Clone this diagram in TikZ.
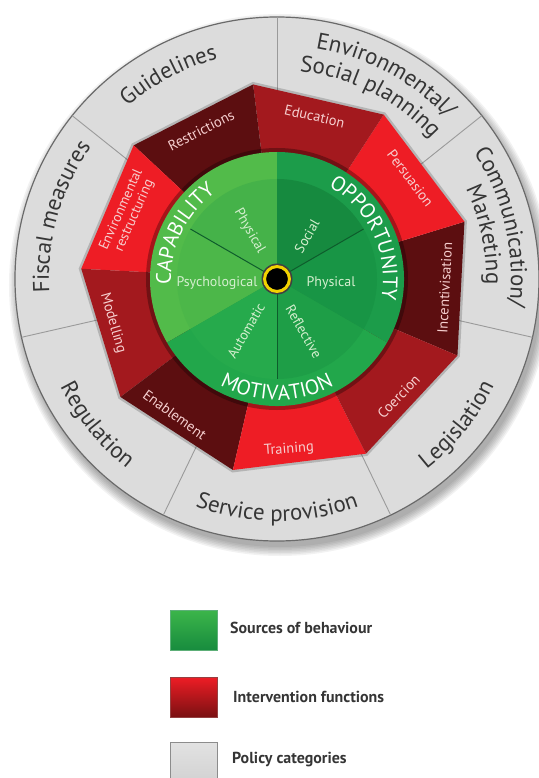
\documentclass[tikz,border=0pt]{standalone}
\usepackage{fontspec}
\setmainfont{PT Sans}
\usetikzlibrary{decorations.text}

\definecolor{ringgrey}{HTML}{DCDCDC}
\definecolor{rimgrey}{HTML}{6A6A6A}
\definecolor{sepgrey}{HTML}{9A9A9A}
\definecolor{greytext}{HTML}{353535}
\definecolor{reddark}{HTML}{5C0E10}
\definecolor{redmid}{HTML}{A3191E}
\definecolor{redbright}{HTML}{EE1D25}
\definecolor{redtext}{HTML}{F6CFCF}
\definecolor{capband}{HTML}{52BB4A}
\definecolor{capphys}{HTML}{45B249}
\definecolor{cappsy}{HTML}{4CB749}
\definecolor{oppband}{HTML}{1C9C4A}
\definecolor{oppsoc}{HTML}{168A3F}
\definecolor{oppphys}{HTML}{189545}
\definecolor{motband}{HTML}{22A74B}
\definecolor{motauto}{HTML}{26AA4C}
\definecolor{motrefl}{HTML}{1E9E47}
\definecolor{greenline}{HTML}{0E5C2C}
\definecolor{greenlabel}{HTML}{D5EFCF}
\definecolor{dotyellow}{HTML}{F2D200}
\definecolor{leggreenA}{HTML}{3CB54A}
\definecolor{leggreenB}{HTML}{178C3E}
\definecolor{legredA}{HTML}{EE1D25}
\definecolor{legredB}{HTML}{7A1012}
\definecolor{leggreyA}{HTML}{E2E2E2}
\definecolor{leggreyB}{HTML}{D2D2D2}

\newcommand{\wheelgreyfont}{\fontsize{23}{27}\selectfont}
\newcommand{\wheelcapfont}{\fontsize{21}{25}\selectfont}
% clockwise arc text (tops outward)
\newcommand{\cwtext}[5]{%
  \path[decorate,decoration={text along path,text align=center,text color=#5,
    text={|#3|#4}}] ({#1+70}:#2) arc[start angle={#1+70},end angle={#1-70},radius=#2];}
% counter-clockwise arc text (tops inward)
\newcommand{\ccwtext}[5]{%
  \path[decorate,decoration={text along path,text align=center,text color=#5,
    text={|#3|#4}}] ({#1-70}:#2) arc[start angle={#1-70},end angle={#1+70},radius=#2];}

\tikzset{
  redlabel/.style={text=redtext,font=\fontsize{14.5}{15.5}\selectfont,inner sep=0pt,align=center},
  innerlabel/.style={text=greenlabel,font=\fontsize{14}{15}\selectfont,inner sep=0pt},
  legbox/.style={minimum width=47,minimum height=40,inner sep=0pt,line width=0.8},
  legtext/.style={text=greytext,font=\fontsize{16}{19}\selectfont\bfseries,inner sep=0pt,anchor=west},
  greensep/.style={greenline,line width=1}
}

\begin{document}
\begin{tikzpicture}[x=1bp,y=1bp]
\useasboundingbox (-277,-499) rectangle (262,279);
\fill[white] (-277,-499) rectangle (262,279);

% soft shadow
\foreach \r in {262,263.5,...,271} {\fill[black,opacity=0.05] (3,-6) circle[radius=\r];}

% policy ring
\fill[ringgrey] (0,0) circle[radius=262];
\draw[rimgrey,line width=1.2] (0,0) circle[radius=262];
\foreach \k in {0,...,6} {\draw[sepgrey,line width=0.9] ({90+\k*360/7}:150) -- ({90+\k*360/7}:262);}

% intervention ring (nonagon)
\draw[black,opacity=0.18,line width=3] (17:197) \foreach \a in {57,97,...,337} {-- (\a:197)} -- cycle;
\fill[reddark]   (0,0) -- (-23:196) -- (17:196) -- cycle;
\fill[redbright] (0,0) -- (17:196) -- (57:196) -- cycle;
\fill[redmid]    (0,0) -- (57:196) -- (97:196) -- cycle;
\fill[reddark]   (0,0) -- (97:196) -- (137:196) -- cycle;
\fill[redbright] (0,0) -- (137:196) -- (177:196) -- cycle;
\fill[redmid]    (0,0) -- (177:196) -- (217:196) -- cycle;
\fill[reddark]   (0,0) -- (217:196) -- (257:196) -- cycle;
\fill[redbright] (0,0) -- (257:196) -- (297:196) -- cycle;
\fill[redmid]    (0,0) -- (297:196) -- (337:196) -- cycle;

% sources of behaviour
\fill[black,opacity=0.3] (0,0) circle[radius=131];
\fill[capband] (0,0) -- (90:127) arc[start angle=90,end angle=210,radius=127] -- cycle;
\fill[oppband] (0,0) -- (-30:127) arc[start angle=-30,end angle=90,radius=127] -- cycle;
\fill[motband] (0,0) -- (210:127) arc[start angle=210,end angle=330,radius=127] -- cycle;
\fill[capphys] (0,0) -- (90:100) arc[start angle=90,end angle=150,radius=100] -- cycle;
\fill[cappsy]  (0,0) -- (150:100) arc[start angle=150,end angle=210,radius=100] -- cycle;
\fill[motauto] (0,0) -- (210:100) arc[start angle=210,end angle=270,radius=100] -- cycle;
\fill[motrefl] (0,0) -- (270:100) arc[start angle=270,end angle=330,radius=100] -- cycle;
\fill[oppphys] (0,0) -- (-30:100) arc[start angle=-30,end angle=30,radius=100] -- cycle;
\fill[oppsoc]  (0,0) -- (30:100) arc[start angle=30,end angle=90,radius=100] -- cycle;

\coordinate (c0) at (0,0);
\coordinate (l1) at (150:100);
\coordinate (l2) at (30:100);
\coordinate (l3) at (270:100);
\draw[greensep] (c0) -- (l1);
\draw[greensep] (c0) -- (l2);
\draw[greensep] (c0) -- (l3);

\fill[black!75] (0,0) circle[radius=15.5];
\node[circle,fill=black,draw=dotyellow,line width=3,minimum size=25,inner sep=0pt] (hub) at (0,0) {};

% green inner labels
\node[innerlabel,rotate=-60] (capphysl) at (120:55) {Physical};
\node[innerlabel] (cappsyl) at (-60,-4) {Psychological};
\node[innerlabel,rotate=60] (oppsocl) at (55:52) {Social};
\node[innerlabel] (oppphysl) at (54,-4) {Physical};
\node[innerlabel,rotate=60] (motautol) at (239:60) {Automatic};
\node[innerlabel,rotate=-60] (motrefll) at (297:59) {Reflective};

% COM labels
\cwtext{154}{106}{\wheelcapfont}{CAPABILITY}{white}
\cwtext{25}{106}{\wheelcapfont}{OPPORTUNITY}{white}
\ccwtext{270}{121}{\wheelcapfont}{MOTIVATION}{white}

% intervention labels
\node[redlabel,rotate=87] (incent) at (-3:168) {Incentivisation};
\node[redlabel,rotate=-53] (persu) at (37:167) {Persuasion};
\node[redlabel,rotate=-13] (educ) at (77:167) {Education};
\node[redlabel,rotate=27] (restr) at (117:167) {Restrictions};
\node[redlabel,rotate=66,font=\fontsize{14}{14.5}\selectfont] (envr) at (156:163) {Environmental\\restructuring};
\node[redlabel,rotate=-74] (model) at (195:170) {Modelling};
\node[redlabel,rotate=-36] (enable) at (233:170) {Enablement};
\node[redlabel,rotate=4] (train) at (274:171) {Training};
\node[redlabel,rotate=46] (coerc) at (316:169) {Coercion};

% policy labels
\cwtext{118}{228}{\wheelgreyfont}{Guidelines}{greytext}
\cwtext{62}{234}{\wheelgreyfont}{Environmental/}{greytext}
\cwtext{63}{209}{\wheelgreyfont}{Social planning}{greytext}
\cwtext{13}{234}{\wheelgreyfont}{Communication/}{greytext}
\cwtext{12}{209}{\wheelgreyfont}{Marketing}{greytext}
\cwtext{164}{228}{\wheelgreyfont}{Fiscal measures}{greytext}
\ccwtext{-39}{242}{\wheelgreyfont}{Legislation}{greytext}
\ccwtext{-90}{242}{\wheelgreyfont}{Service provision}{greytext}
\ccwtext{219}{242}{\wheelgreyfont}{Regulation}{greytext}

% legend
\node[legbox,top color=leggreenA,bottom color=leggreenB,draw=leggreenB!70] (gbox) at (-83.5,-351) {};
\node[legbox,top color=legredA,bottom color=legredB,draw=legredB!80] (rbox) at (-83.5,-418) {};
\node[legbox,top color=leggreyA,bottom color=leggreyB,draw=black!45] (pbox) at (-83.5,-483) {};
\node[legtext] (gtxt) at (-47,-349) {Sources of behaviour};
\node[legtext] (rtxt) at (-44,-418) {Intervention functions};
\node[legtext] (ptxt) at (-45,-481) {Policy categories};
\end{tikzpicture}
\end{document}
